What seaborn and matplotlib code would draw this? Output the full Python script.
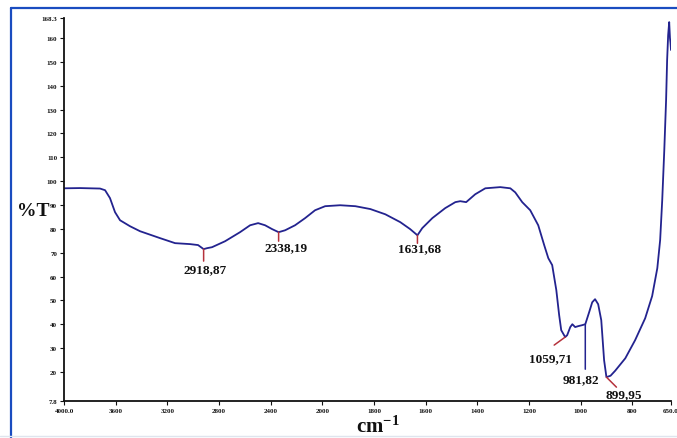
import numpy as np
import pandas as pd
import matplotlib
matplotlib.use("Agg")
import matplotlib.pyplot as plt
import seaborn as sns
from matplotlib.lines import Line2D

# FTIR spectrum: wavenumber (cm-1) and transmittance (%T)
wavenumber = [4000, 3876, 3721, 3682, 3644, 3605, 3566, 3489, 3411, 3256, 3140,
              3024, 2962, 2918.87, 2892, 2854, 2753, 2637, 2559, 2497, 2443,
              2389, 2338.19, 2288, 2211, 2133, 2056, 1989, 1931, 1872, 1814,
              1756, 1698, 1660, 1631.68, 1613, 1574, 1524, 1485, 1466, 1443,
              1408, 1369, 1311, 1272, 1253, 1226, 1195, 1164, 1141, 1125, 1110,
              1094, 1083, 1075, 1059.71, 1052, 1040, 1032, 1021, 1009, 994,
              981.82, 967, 955, 944, 932, 920, 909, 899.95, 884, 866, 827, 789,
              750, 723, 703, 692, 684, 676, 669, 665, 661, 657, 654, 652, 650]
transmittance = [97.0, 97.1, 96.9, 96.2, 92.9, 87.0, 83.6, 81.1, 79.0, 76.1, 74.0,
                 73.6, 73.2, 71.5, 71.9, 72.3, 74.8, 78.6, 81.5, 82.4, 81.5,
                 79.9, 78.6, 79.4, 81.5, 84.5, 87.8, 89.5, 89.9, 89.5, 88.3,
                 86.1, 82.8, 79.9, 77.3, 80.3, 84.5, 88.7, 91.2, 91.6, 91.2,
                 94.5, 97.0, 97.5, 97.0, 95.3, 91.2, 87.8, 81.5, 73.2, 67.7, 64.8,
                 54.3, 43.8, 37.5, 34.6, 35.4, 38.8, 40.0, 38.8, 39.2, 39.6,
                 40.0, 45.0, 49.2, 50.5, 48.4, 41.7, 24.9, 17.8, 18.4, 20.5, 25.7, 33.3,
                 42.5, 51.8, 63.5, 75.3, 92.0, 113.0, 134.0, 150.8, 161.3, 166.7, 160.0, 158.0, 155.0]

# labelled bands
peak_wavenumbers = [2918.87, 2338.19, 1631.68, 1059.71, 981.82, 899.95]
peak_labels = ["2918,87", "2338,19", "1631,68", "1059,71", "981,82", "899,95"]

x_ticks = [4000, 3600, 3200, 2800, 2400, 2000, 1800, 1600, 1400, 1200, 1000, 800, 650]
x_tick_labels = ["4000.0", "3600", "3200", "2800", "2400", "2000", "1800", "1600",
                 "1400", "1200", "1000", "800", "650.0"]
y_ticks = [7.8, 20, 30, 40, 50, 60, 70, 80, 90, 100, 110, 120, 130, 140, 150, 160, 168.3]
y_tick_labels = ["7.8", "20", "30", "40", "50", "60", "70", "80", "90", "100", "110",
                 "120", "130", "140", "150", "160", "168.3"]

sns.set_theme(style="ticks")
plt.rcParams["font.family"] = ["Liberation Serif", "DejaVu Serif"]
plt.rcParams["font.weight"] = "bold"
plt.rcParams["mathtext.fontset"] = "custom"
plt.rcParams["mathtext.rm"] = "Liberation Serif:bold"
plt.rcParams["mathtext.it"] = "Liberation Serif:bold"
plt.rcParams["mathtext.bf"] = "Liberation Serif:bold"

W, H = 677, 439
fig = plt.figure(figsize=(W / 100, H / 100), dpi=100)
fig.patch.set_facecolor("white")
ax = fig.add_axes([64 / W, 1 - 402 / H, (671 - 64) / W, (402 - 19.3) / H])

line_color = "#23238f"
df = pd.DataFrame({"wavenumber": wavenumber, "T": transmittance})
sns.lineplot(data=df, x="wavenumber", y="T", ax=ax, sort=False, estimator=None,
             color=line_color, lw=1.3)


# wavenumber axis is expanded 2x below 2000 cm-1
def fwd(w):
    w = np.asarray(w, dtype=float)
    return np.where(w > 2000, 2000 + (w - 2000) / 2, w)


def inv(p):
    p = np.asarray(p, dtype=float)
    return np.where(p > 2000, 2000 + 2 * (p - 2000), p)


ax.set_xscale("function", functions=(fwd, inv))
ax.set_xlim(4000, 650)
ax.set_ylim(7.8, 168.3)
ax.set_xticks(x_ticks)
ax.set_xticklabels(x_tick_labels)
ax.set_yticks(y_ticks)
ax.set_yticklabels(y_tick_labels)
ax.minorticks_off()
ax.tick_params(axis="both", direction="out", length=3, width=0.8, pad=2,
               labelsize=5, colors="#111111")
for lab in ax.get_xticklabels() + ax.get_yticklabels():
    lab.set_fontweight("bold")
for side in ("top", "right"):
    ax.spines[side].set_visible(False)
for side in ("left", "bottom"):
    ax.spines[side].set_linewidth(1.3)
    ax.spines[side].set_color("#111111")
ax.set_xlabel("")
ax.set_ylabel("")
ax.patch.set_facecolor("white")
ax.grid(False)

# peak markers: (line start px, line end px, label offset px, line colour)
red = "#b5323c"
marks = [
    ((0, 0), (0, -12), (1, -20), red),
    ((0, 0), (0, -9), (7, -15), red),
    ((0, 0), (0, -8), (2, -13), red),
    ((-1, -1), (-11, -8), (-15, -21), red),
    ((0, 0), (0, -45), (-4, -55), line_color),
    ((1, 1), (10, -10), (17, -17), red),
]
for wn, lab, (s, e, t, c) in zip(peak_wavenumbers, peak_labels, marks):
    tv = float(np.interp(wn, wavenumber[::-1], transmittance[::-1]))
    ax.annotate("", xy=(wn, tv), xycoords="data",
                xytext=(e[0], e[1]), textcoords="offset pixels",
                arrowprops=dict(arrowstyle="-", color=c, lw=1.1,
                                shrinkA=0, shrinkB=0))
    ax.annotate(lab, xy=(wn, tv), xycoords="data", xytext=t,
                textcoords="offset pixels", ha="center", va="center",
                fontsize=9.5, fontweight="bold", color="#111111")

fig.text(33 / W, 1 - 212 / H, "%T", ha="center", va="center", fontsize=14,
         fontweight="bold", color="#111111")
fig.text(378 / W, 1 - 427 / H, "cm$^{-1}$", ha="center", va="center", fontsize=15,
         fontweight="bold", color="#111111")

# page frame
frame = "#1a4cc0"
fig.add_artist(Line2D([11 / W, 11 / W], [0, 1 - 9 / H], transform=fig.transFigure,
                      color=frame, lw=1.6))
fig.add_artist(Line2D([11 / W, 1], [1 - 9 / H, 1 - 9 / H], transform=fig.transFigure,
                      color=frame, lw=1.6))
fig.add_artist(Line2D([0, 1], [1 - 437 / H, 1 - 437 / H], transform=fig.transFigure,
                      color="#dfe5ee", lw=1.0))

fig.savefig("out.png", dpi=100, facecolor="white")
